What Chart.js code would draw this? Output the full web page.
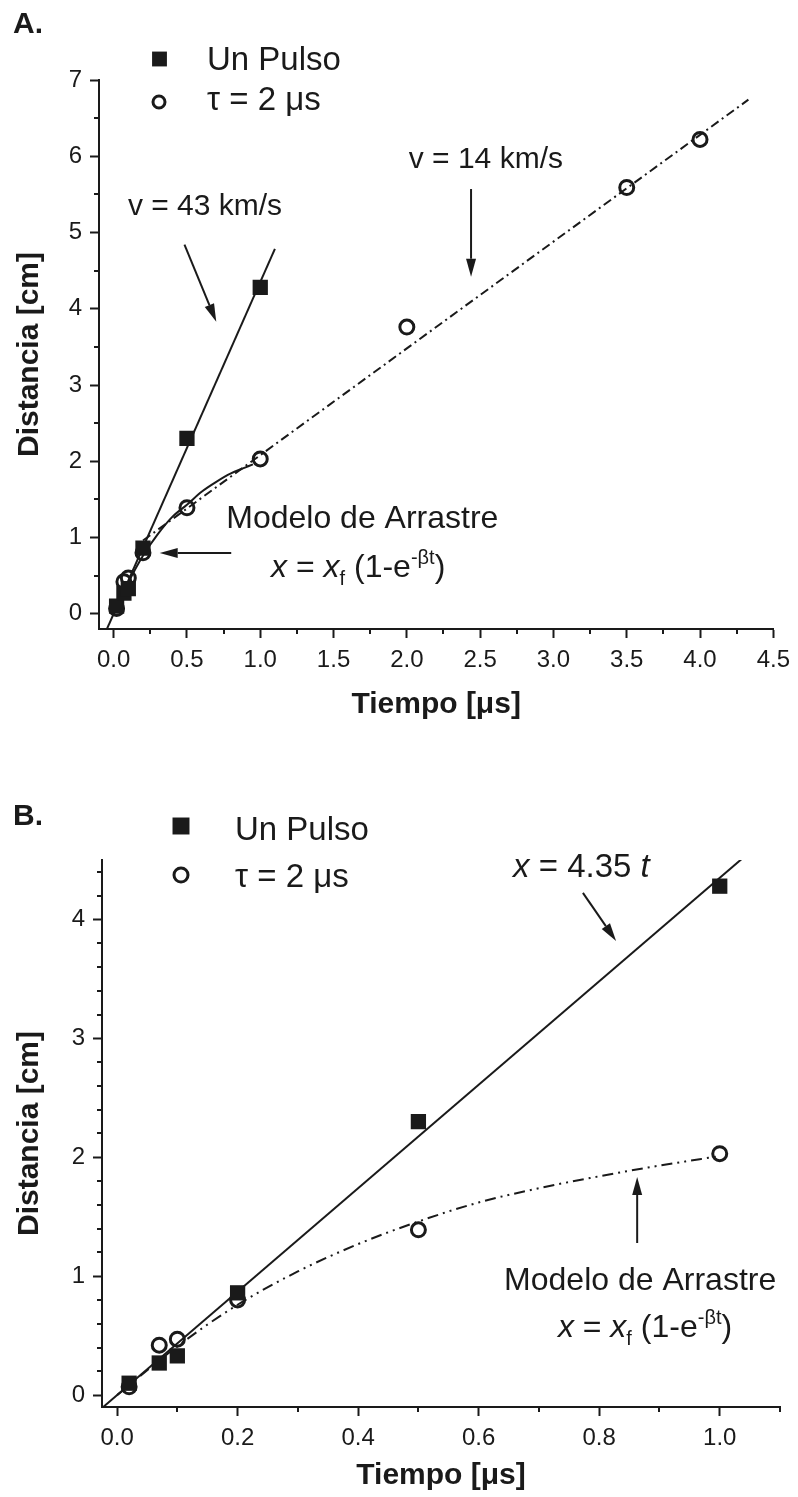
<!DOCTYPE html>
<html>
<head>
<meta charset="utf-8">
<script src="https://cdn.jsdelivr.net/npm/chart.js@4/dist/chart.umd.min.js"></script>
<style>
  html, body { margin: 0; padding: 0; background: #ffffff; }
  #wrap { position: relative; width: 798px; height: 1497px; overflow: hidden; }
  .panel { position: absolute; left: 0; width: 798px; }
  #pA { top: 0; height: 740px; }
  #pB { top: 740px; height: 757px; }
  canvas { display: block; }
</style>
</head>
<body>
<div id="wrap">
  <div class="panel" id="pA"><canvas id="cA" width="798" height="740"></canvas></div>
  <div class="panel" id="pB"><canvas id="cB" width="798" height="757"></canvas></div>
</div>
<script>
// ---- Measurements: time (µs) vs distance (cm) ----
const pulseLabel = 'Un Pulso';
const pulseTime  = [0.02, 0.07, 0.10, 0.20, 0.50, 1.00];
const pulseDist  = [0.10, 0.27, 0.33, 0.86, 2.30, 4.28];

const tauLabel = 'τ = 2 μs';
const tauTime  = [0.02, 0.07, 0.10, 0.20, 0.50, 1.00, 2.00, 3.50, 4.00];
const tauDist  = [0.07, 0.42, 0.47, 0.80, 1.39, 2.03, 3.76, 5.59, 6.22];

// Linear fit of the single-pulse front: x = 4.35 t
const pulseSlope = 4.35;
const pulseFitTimeA = [-0.05, 1.10];
const pulseFitTimeB = [-0.03, 1.05];

// Late-time front of the τ = 2 µs series: v = 14 km/s = 1.4 cm/µs
const tauSlope = 1.4;
const tauIntercept = 0.68;
const tauFitTime = [0.20, 4.33];

// Drag model x = xf (1 - e^(-βt)), sampled curve
const dragTime = [0, 0.10, 0.20, 0.30, 0.40, 0.50, 0.60, 0.70, 0.80, 0.90, 1.00];
const dragDist = [0, 0.41, 0.76, 1.04, 1.27, 1.46, 1.62, 1.74, 1.84, 1.93, 2.01];
const dragTimeA = [0, 0.10, 0.20, 0.30, 0.40, 0.50, 0.60, 0.70, 0.80, 0.90, 0.95];
const dragDistA = [0, 0.41, 0.76, 1.04, 1.27, 1.43, 1.60, 1.73, 1.84, 1.92, 1.96];

// Tick values
const majorXA = [0, 0.5, 1.0, 1.5, 2.0, 2.5, 3.0, 3.5, 4.0, 4.5];
const minorXA = [0.25, 0.75, 1.25, 1.75, 2.25, 2.75, 3.25, 3.75, 4.25];
const majorYA = [0, 1, 2, 3, 4, 5, 6, 7];
const minorYA = [0.5, 1.5, 2.5, 3.5, 4.5, 5.5, 6.5];

const majorXB = [0, 0.2, 0.4, 0.6, 0.8, 1.0];
const minorXB = [0.1, 0.3, 0.5, 0.7, 0.9, 1.1];
const majorYB = [0, 1, 2, 3, 4];
const minorYB = [0.2, 0.4, 0.6, 0.8, 1.2, 1.4, 1.6, 1.8, 2.2, 2.4, 2.6, 2.8, 3.2, 3.4, 3.6, 3.8, 4.2, 4.4];

// ---- Styling ----
const FONT = "'Liberation Sans', Arial, Helvetica, sans-serif";
const INK = '#1a1a1a';

function pts(xs, ys) { return xs.map((x, i) => ({ x: x, y: ys[i] })); }
function linePts(ts, slope, icpt) { return ts.map(t => ({ x: t, y: icpt + slope * t })); }

// Short minor tick marks along both axes
const minorTicks = {
  id: 'minorTicks',
  afterDatasetsDraw(chart, args, o) {
    const ctx = chart.ctx, sx = chart.scales.x, sy = chart.scales.y;
    ctx.save();
    ctx.strokeStyle = INK; ctx.lineWidth = 2;
    o.x.forEach(v => {
      const p = Math.round(sx.getPixelForValue(v));
      ctx.beginPath(); ctx.moveTo(p, sx.top); ctx.lineTo(p, sx.top + o.len); ctx.stroke();
    });
    o.y.forEach(v => {
      const p = Math.round(sy.getPixelForValue(v));
      ctx.beginPath(); ctx.moveTo(sy.right, p); ctx.lineTo(sy.right - o.len, p); ctx.stroke();
    });
    ctx.restore();
  }
};

// Rich text: segments with italic / subscript / superscript
function drawRich(ctx, segs, x, y, size, align) {
  const parts = segs.map(s => {
    const fs = (s.sub || s.sup) ? Math.round(size * 0.62) : size;
    const f = (s.it ? 'italic ' : '') + (s.bold ? 'bold ' : '') + fs + 'px ' + FONT;
    ctx.font = f;
    return { t: s.t, f: f, w: ctx.measureText(s.t).width, dy: s.sub ? size * 0.25 : (s.sup ? -size * 0.42 : 0) };
  });
  const total = parts.reduce((a, p) => a + p.w, 0);
  let cx = align === 'center' ? x - total / 2 : (align === 'right' ? x - total : x);
  ctx.textAlign = 'left'; ctx.textBaseline = 'alphabetic';
  parts.forEach(p => { ctx.font = p.f; ctx.fillText(p.t, cx, y + p.dy); cx += p.w; });
}

function drawArrow(ctx, x1, y1, x2, y2) {
  const ang = Math.atan2(y2 - y1, x2 - x1), L = 18, W = 5;
  const bx = x2 - L * Math.cos(ang), by = y2 - L * Math.sin(ang);
  ctx.beginPath(); ctx.moveTo(x1, y1); ctx.lineTo(bx, by); ctx.stroke();
  ctx.beginPath();
  ctx.moveTo(x2, y2);
  ctx.lineTo(bx + W * Math.sin(ang), by - W * Math.cos(ang));
  ctx.lineTo(bx - W * Math.sin(ang), by + W * Math.cos(ang));
  ctx.closePath(); ctx.fill();
}

// Labels and arrows anchored in data coordinates
const notes = {
  id: 'notes',
  afterDraw(chart, args, o) {
    const ctx = chart.ctx, sx = chart.scales.x, sy = chart.scales.y;
    ctx.save();
    ctx.fillStyle = INK; ctx.strokeStyle = INK; ctx.lineWidth = 2;
    (o.items || []).forEach(it => {
      if (it.arrow) {
        drawArrow(ctx, sx.getPixelForValue(it.arrow[0]), sy.getPixelForValue(it.arrow[1]),
                       sx.getPixelForValue(it.arrow[2]), sy.getPixelForValue(it.arrow[3]));
      } else {
        drawRich(ctx, it.segs, sx.getPixelForValue(it.x), sy.getPixelForValue(it.y), it.size, it.align);
      }
    });
    // panel letter
    drawRich(ctx, [{ t: o.letter, bold: true }], o.letterPos[0], o.letterPos[1], 30, 'left');
    ctx.restore();
  }
};

// Legend drawn from the dataset styles
const keyBox = {
  id: 'keyBox',
  afterDraw(chart, args, o) {
    const ctx = chart.ctx;
    ctx.save();
    o.rows.forEach(r => {
      const ds = chart.data.datasets[r.ds];
      ctx.fillStyle = ds.pointBackgroundColor; ctx.strokeStyle = ds.pointBorderColor;
      ctx.lineWidth = ds.pointBorderWidth;
      Chart.helpers.drawPoint(ctx, { pointStyle: ds.pointStyle, radius: r.r, borderWidth: ds.pointBorderWidth }, r.mx, r.my);
      ctx.fillStyle = INK;
      drawRich(ctx, [{ t: ds.label }], o.textX, r.ty, o.size, 'left');
    });
    ctx.restore();
  }
};

function axis(min, max, majors, fmt, extra) {
  return Object.assign({
    type: 'linear', min: min, max: max,
    afterBuildTicks: s => { s.ticks = majors.map(v => ({ value: v })); },
    ticks: { font: { size: 24, family: FONT }, color: INK, callback: fmt, autoSkip: false, maxRotation: 0, padding: 8 },
    grid: { display: true, drawOnChartArea: false, drawTicks: true, tickLength: 9, tickWidth: 2, tickColor: INK },
    border: { display: true, width: 2, color: INK }
  }, extra);
}

function dsPoints(label, xs, ys, square) {
  return square ? {
    label: label, data: pts(xs, ys), showLine: false, order: 0,
    pointStyle: 'rect', pointRadius: 10.8, pointBackgroundColor: INK, pointBorderColor: INK, pointBorderWidth: 0
  } : {
    label: label, data: pts(xs, ys), showLine: false, order: 0,
    pointStyle: 'circle', pointRadius: 7, pointBackgroundColor: 'rgba(0,0,0,0)', pointBorderColor: INK, pointBorderWidth: 3
  };
}
function dsLine(data, dash, curved) {
  return { label: '', data: data, showLine: true, order: 1, pointRadius: 0, borderColor: INK,
           borderWidth: 2, borderDash: dash, tension: curved ? 0.4 : 0, cubicInterpolationMode: curved ? 'monotone' : 'default', fill: false };
}

const common = {
  responsive: false, animation: false, devicePixelRatio: 1,
  events: [],
};

// ---- Panel A ----
new Chart(document.getElementById('cA'), {
  type: 'scatter',
  data: { datasets: [
    dsPoints(pulseLabel, pulseTime, pulseDist, true),
    dsPoints(tauLabel, tauTime, tauDist, false),
    dsLine(linePts(pulseFitTimeA, pulseSlope, 0), [], false),
    dsLine(linePts(tauFitTime, tauSlope, tauIntercept), [9, 4, 2, 4], false),
    dsLine(pts(dragTimeA, dragDistA), [], true)
  ] },
  options: Object.assign({}, common, {
    layout: { padding: { top: 80, right: 21, left: 0, bottom: 0 } },
    plugins: {
      legend: { display: false }, tooltip: { enabled: false },
      minorTicks: { x: minorXA, y: minorYA, len: 5 },
      keyBox: { textX: 207, size: 33, rows: [
        { ds: 0, mx: 159.5, my: 59, r: 10.5, ty: 70 },
        { ds: 1, mx: 159, my: 102, r: 6, ty: 110 } ] },
      notes: { letter: 'A.', letterPos: [13, 33], items: [
        { segs: [{ t: 'v = 43 km/s' }], x: 0.623, y: 5.23, size: 30, align: 'center' },
        { arrow: [0.483, 4.84, 0.700, 3.83] },
        { segs: [{ t: 'v = 14 km/s' }], x: 2.539, y: 5.846, size: 30, align: 'center' },
        { arrow: [2.438, 5.57, 2.438, 4.42] },
        { segs: [{ t: 'Modelo de Arrastre' }], x: 0.768, y: 1.125, size: 32, align: 'left' },
        { segs: [{ t: 'x', it: true }, { t: ' = ' }, { t: 'x', it: true }, { t: 'f', sub: true }, { t: ' (1-e' }, { t: '-βt', sup: true }, { t: ')' }],
          x: 1.074, y: 0.482, size: 32, align: 'left' },
        { arrow: [0.802, 0.797, 0.314, 0.797] }
      ] }
    },
    scales: {
      x: axis(-0.1, 4.5, majorXA, v => v.toFixed(1), {
        afterFit: s => { s.height = 111; },
        title: { display: true, text: 'Tiempo [μs]', color: INK, font: { size: 30, weight: 'bold', family: FONT }, padding: { top: 0, bottom: 17 } }
      }),
      y: axis(-0.2, 7, majorYA, v => String(v), {
        afterFit: s => { s.width = 99; },
        title: { display: true, text: 'Distancia [cm]', color: INK, font: { size: 30, weight: 'bold', family: FONT }, padding: { top: 12, bottom: 0 } }
      })
    }
  }),
  plugins: [minorTicks, notes, keyBox]
});

// ---- Panel B ----
new Chart(document.getElementById('cB'), {
  type: 'scatter',
  data: { datasets: [
    dsPoints(pulseLabel, pulseTime, pulseDist, true),
    dsPoints(tauLabel, tauTime.slice(0, 6), tauDist.slice(0, 6), false),
    dsLine(linePts(pulseFitTimeB, pulseSlope, 0), [], false),
    dsLine(pts(dragTime, dragDist), [11, 5, 2, 5, 2, 5], true)
  ] },
  options: Object.assign({}, common, {
    layout: { padding: { top: 120, right: 18, left: 0, bottom: 0 } },
    plugins: {
      legend: { display: false }, tooltip: { enabled: false },
      minorTicks: { x: minorXB, y: minorYB, len: 5 },
      keyBox: { textX: 235, size: 33, rows: [
        { ds: 0, mx: 181, my: 86, r: 12, ty: 100 },
        { ds: 1, mx: 181, my: 135, r: 7, ty: 147 } ] },
      notes: { letter: 'B.', letterPos: [13, 85], items: [
        { segs: [{ t: 'x', it: true }, { t: ' = 4.35 ' }, { t: 't', it: true }], x: 0.657, y: 4.357, size: 33, align: 'left' },
        { arrow: [0.773, 4.223, 0.828, 3.819] },
        { segs: [{ t: 'Modelo de Arrastre' }], x: 0.868, y: 0.884, size: 32, align: 'center' },
        { segs: [{ t: 'x', it: true }, { t: ' = ' }, { t: 'x', it: true }, { t: 'f', sub: true }, { t: ' (1-e' }, { t: '-βt', sup: true }, { t: ')' }],
          x: 0.876, y: 0.489, size: 32, align: 'center' },
        { arrow: [0.863, 1.279, 0.863, 1.834] }
      ] }
    },
    scales: {
      x: axis(-0.025, 1.1, majorXB, v => v.toFixed(1), {
        afterFit: s => { s.height = 90; },
        title: { display: true, text: 'Tiempo [μs]', color: INK, font: { size: 30, weight: 'bold', family: FONT }, padding: { top: 0, bottom: 3 } }
      }),
      y: axis(-0.1, 4.5, majorYB, v => String(v), {
        afterFit: s => { s.width = 102; },
        title: { display: true, text: 'Distancia [cm]', color: INK, font: { size: 30, weight: 'bold', family: FONT }, padding: { top: 12, bottom: 0 } }
      })
    }
  }),
  plugins: [minorTicks, notes, keyBox]
});
</script>
</body>
</html>
